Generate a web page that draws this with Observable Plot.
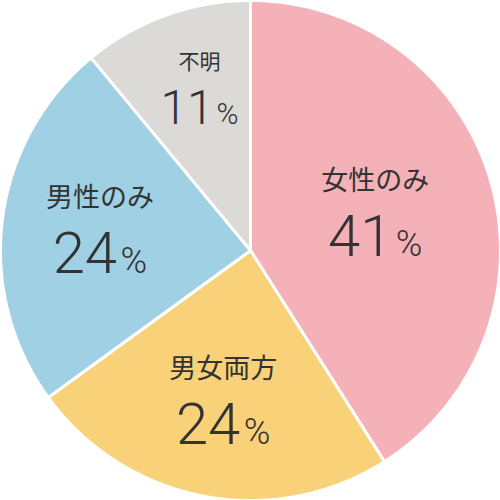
<!DOCTYPE html>
<html>
<head>
<meta charset="utf-8">
<script src="https://cdn.jsdelivr.net/npm/d3@7"></script>
<script src="https://cdn.jsdelivr.net/npm/@observablehq/plot@0.6"></script>
<style>
  html, body { margin: 0; padding: 0; background: #fff; }
  #chart svg { display: block; }
</style>
</head>
<body>
<div id="chart"></div>
<script>
// ---- data ----
const categories = ["女性のみ", "男女両方", "男性のみ", "不明"];
const values = [41, 24, 24, 11];
const unit = "%";

// ---- layout / style (not data) ----
const colors = ["#F4B2B8", "#F8D178", "#9FD0E3", "#DCDAD7"];
const labelRadius = [0.525, 0.6, 0.61, 0.69];   // fraction of pie radius
const labelTurn = [-1.9, -0.3, 1.9, 2.6];        // degrees nudge from slice middle
const nameSize = [27, 27, 27, 21];
const numberSize = [58, 58, 58, 48];
const textColor = "#333333";
const font = "'Noto Sans CJK JP', 'Noto Sans', sans-serif";
const numFont = "Roboto, 'Liberation Sans', sans-serif";

// ---- build slice outlines (unit circle, angle clockwise from top) ----
const total = d3.sum(values);
let acc = 0;
const outline = [];
const labels = [];
categories.forEach((name, i) => {
  const a0 = (acc / total) * 2 * Math.PI;
  acc += values[i];
  const a1 = (acc / total) * 2 * Math.PI;
  const n = Math.max(2, Math.ceil((a1 - a0) / (Math.PI / 360)));
  outline.push({name, x: 0, y: 0});
  for (let k = 0; k <= n; ++k) {
    const a = a0 + (a1 - a0) * k / n;
    outline.push({name, x: Math.sin(a), y: Math.cos(a)});
  }
  outline.push({name, x: 0, y: 0});
  const mid = (a0 + a1) / 2 + labelTurn[i] * Math.PI / 180;
  const r = labelRadius[i];
  labels.push({name, value: String(values[i]), x: r * Math.sin(mid), y: r * Math.cos(mid),
               namesize: nameSize[i], numsize: numberSize[i]});
});

const chart = Plot.plot({
  width: 500,
  height: 500,
  margin: 0,
  x: {domain: [-1, 1], axis: null},
  y: {domain: [-1, 1], axis: null},
  color: {domain: categories, range: colors},
  style: {fontFamily: font},
  marks: [
    Plot.line(outline, {x: "x", y: "y", z: "name", fill: "name", stroke: "#ffffff",
                        strokeWidth: 3, strokeLinejoin: "miter"}),
    Plot.text(labels, {x: "x", y: "y", text: "name", fontSize: "namesize", fill: textColor,
                       fontFamily: font, textAnchor: "middle", lineAnchor: "middle"}),
    Plot.text(labels, {x: "x", y: "y", text: "value", fontSize: "numsize", fill: textColor,
                       fontFamily: numFont, fontWeight: 300, textAnchor: "middle", lineAnchor: "middle"})
  ]
});

// vertical stacking of name / number, and the small percent sign
const groups = chart.querySelectorAll('g[aria-label="text"]');
if (groups.length >= 2) {
  groups[0].querySelectorAll("text").forEach((t, i) => {
    const off = 0.49 * numberSize[i];
    t.setAttribute("transform", (t.getAttribute("transform") || "") + ` translate(0,${-off})`);
  });
  groups[1].querySelectorAll("text").forEach((t, i) => {
    const fs = numberSize[i];
    const off = 0.48 * fs;
    t.setAttribute("transform", (t.getAttribute("transform") || "") + ` translate(0,${off})`);
    const ts = document.createElementNS("http://www.w3.org/2000/svg", "tspan");
    ts.setAttribute("font-size", (0.62 * fs).toFixed(1));
    ts.setAttribute("dx", (0.06 * fs).toFixed(1));
    ts.textContent = unit;
    t.appendChild(ts);
  });
}

document.getElementById("chart").appendChild(chart);
</script>
</body>
</html>
